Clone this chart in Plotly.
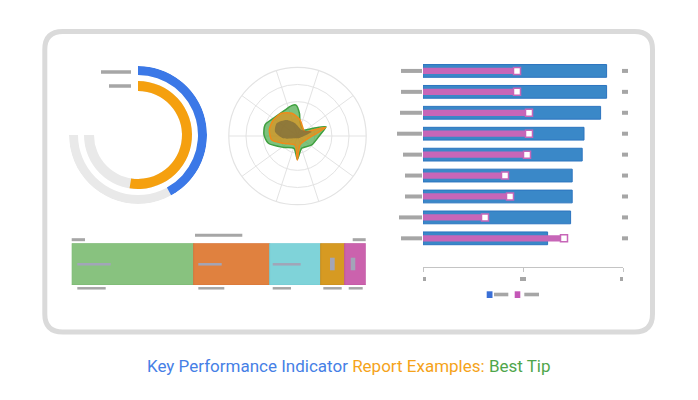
import plotly.graph_objects as go
import numpy as np

W, H = 698, 400

# ---------------- data ----------------
# radial gauge (percent of full 270 degree track): outer blue, inner orange
gauge_values = [56, 70]
gauge_colors = ["#3b78e7", "#f5a00f"]
gauge_track = "#e9e9e9"

# radar series (theta in degrees, r in radial units 0..68.7)
green_theta = [2.5, 18, 26, 46, 80, 85, 92.8, 101, 116, 144, 161, 178, 194, 219, 254, 269.6, 289, 328]
green_r = [22.5, 30, 17.6, 8.4, 14.5, 22.7, 31, 30.9, 28.8, 29.9, 34.3, 33.5, 30, 18.1, 12.8, 23.3, 13, 16.8]
orange_theta = [8, 17, 21, 30, 81, 104, 125, 146.5, 168, 189, 207.4, 254.5, 269.6, 285.5, 348]
orange_r = [19.4, 29.6, 16.9, 8.5, 16.2, 23.4, 27.7, 29, 28.8, 26.1, 16, 9.3, 24, 9.3, 11.1]
dark_theta = [17, 55, 101, 124, 148.7, 169, 189.4, 223, 300, 346.5]
dark_r = [14.8, 7.3, 12.9, 19.3, 24.4, 22.9, 14.4, 3.4, 2.5, 4.3]

# stacked bar segments
seg_values = [122, 76, 51, 24, 21]
seg_colors = ["#88c27f", "#e0813f", "#7fd3d9", "#d69a22", "#cb62ad"]
seg_lines = ["#7ab872", "#d8743a", "#74cbd2", "#c98d1c", "#c0569f"]

# bullet chart
bullet_rows = list(range(9))
bullet_actual = [91.8, 91.8, 88.8, 80.5, 79.6, 74.6, 74.6, 73.8, 62.3]
bullet_target = [49, 49, 55, 55, 54, 43, 45.5, 33, 72.5]
bullet_ticks = [0, 50, 100]
bullet_label_w = [21, 21, 22, 25, 19, 17, 17, 23, 21]

# ---------------- helpers ----------------
def px(x):
    return x / W

def py(y):
    return 1 - y / H

GRAY = "#a6a6a6"
shapes = []

def rect(x0, x1, y0, y1, color=GRAY):
    shapes.append(dict(type="rect", xref="paper", yref="paper",
                       x0=px(x0), x1=px(x1), y0=py(y1), y1=py(y0),
                       line=dict(width=0), fillcolor=color, layer="above"))

def hbar(x0, x1, yc, h=3, color=GRAY):
    rect(x0, x1, yc - h / 2, yc + h / 2, color)

# card border
x0, x1, y0, y1, rr = 44.8, 652.5, 31.5, 332, 18
def P(x, y):
    return f"{px(x):.5f},{py(y):.5f}"
card = (f"M {P(x0+rr,y0)} L {P(x1-rr,y0)} Q {P(x1,y0)} {P(x1,y0+rr)} "
        f"L {P(x1,y1-rr)} Q {P(x1,y1)} {P(x1-rr,y1)} L {P(x0+rr,y1)} "
        f"Q {P(x0,y1)} {P(x0,y1-rr)} L {P(x0,y0+rr)} Q {P(x0,y0)} {P(x0+rr,y0)} Z")
shapes.append(dict(type="path", path=card, xref="paper", yref="paper",
                   line=dict(color="#dadada", width=5), fillcolor="rgba(0,0,0,0)", layer="below"))

fig = go.Figure()

# ---------------- gauge ----------------
SPAN = 270
ring_base = [60, 44]
ring_thick = [9, 10]
fig.add_trace(go.Barpolar(r=ring_thick, base=ring_base, theta=[SPAN / 2] * 2, width=[SPAN] * 2,
                          marker=dict(color=gauge_track, line=dict(width=0)),
                          subplot="polar", showlegend=False, hoverinfo="skip"))
deg = [v / 100 * SPAN for v in gauge_values]
fig.add_trace(go.Barpolar(r=ring_thick, base=ring_base, theta=[d / 2 for d in deg], width=deg,
                          marker=dict(color=gauge_colors, line=dict(width=0)),
                          subplot="polar", showlegend=False))
hbar(101, 131, 72, 3.5)
hbar(109, 131, 86, 3.5)

# ---------------- radar ----------------
def closed(t, r):
    return list(t) + [t[0]], list(r) + [r[0]]

for (t, r, fc, lc, lw) in [
    (green_theta, green_r, "rgba(70,168,70,0.7)", "#3fa03f", 1.5),
    (orange_theta, orange_r, "rgba(235,140,20,0.65)", "#f08a1a", 1.5),
    (dark_theta, dark_r, "rgba(100,90,60,0.55)", "rgba(0,0,0,0)", 0),
]:
    tt, rr2 = closed(t, r)
    fig.add_trace(go.Scatterpolar(theta=tt, r=rr2, mode="lines", fill="toself",
                                  fillcolor=fc, line=dict(color=lc, width=lw, shape="spline", smoothing=0.7),
                                  subplot="polar2", showlegend=False))

# ---------------- stacked bar ----------------
bases = np.concatenate([[0], np.cumsum(seg_values)[:-1]])
fig.add_trace(go.Bar(y=[0] * len(seg_values), x=seg_values, base=bases, orientation="h", width=1,
                     marker=dict(color=seg_colors, line=dict(color=seg_lines, width=1)),
                     xaxis="x2", yaxis="y2", showlegend=False))
hbar(71.7, 85, 239.7, 3)
hbar(195, 242.3, 235.3, 3)
hbar(352.7, 365.7, 239.7, 3)
IN = "#a2a5b8"
hbar(77.3, 110.7, 264.3, 2.5, IN)
hbar(198.3, 221.7, 264.3, 2.5, IN)
hbar(272.7, 300.7, 264.3, 2.5, IN)
rect(330, 334.7, 257.7, 270.3, IN)
rect(350.7, 355.3, 257.7, 270.3, IN)
for a, b in [(77.3, 105.7), (198.3, 224.3), (272.7, 291), (323.3, 341.7), (348.7, 362.7)]:
    hbar(a, b, 288.3, 2.5)

# ---------------- bullet chart ----------------
fig.add_trace(go.Bar(y=bullet_rows, x=bullet_actual, orientation="h", width=0.61,
                     marker=dict(color="#3a88c8", line=dict(color="#2c74bf", width=1)),
                     xaxis="x", yaxis="y", showlegend=False))
fig.add_trace(go.Bar(y=bullet_rows, x=bullet_target, orientation="h", width=0.3,
                     marker=dict(color="#c766b8", line=dict(width=0)),
                     xaxis="x", yaxis="y", showlegend=False))
fig.add_trace(go.Scatter(y=bullet_rows, x=[t - 2 for t in bullet_target], mode="markers",
                         marker=dict(symbol="square", size=7, color="white",
                                     line=dict(color="#c766b8", width=1.5)),
                         xaxis="x", yaxis="y", showlegend=False))
for row, w in zip(bullet_rows, bullet_label_w):
    shapes.append(dict(type="rect", xref="paper", yref="y", x0=px(422 - w), x1=px(422),
                       ysizemode="pixel", yanchor=row, y0=-2, y1=2,
                       line=dict(width=0), fillcolor=GRAY))
    shapes.append(dict(type="rect", xref="paper", yref="y", x0=px(622), x1=px(628),
                       ysizemode="pixel", yanchor=row, y0=-2, y1=2,
                       line=dict(width=0), fillcolor=GRAY))
for tv in bullet_ticks:
    shapes.append(dict(type="rect", xref="x", yref="paper", xsizemode="pixel", xanchor=tv,
                       x0=-3, x1=3, y0=py(281), y1=py(277), line=dict(width=0), fillcolor=GRAY))
rect(486.7, 492.5, 291.3, 298, "#3a6fd6")
hbar(494, 508.3, 294.5, 3.6)
rect(514.7, 520.3, 291.3, 298, "#c457b7")
hbar(524.3, 539, 294.5, 3.6)

# ---------------- title ----------------
title = ('<span style="color:#4680e6">Key Performance Indicator</span> '
         '<span style="color:#f5a31a">Report Examples:</span> '
         '<span style="color:#4fa64b">Best Tip</span>')

GRID = "#e3e3e3"
RMAX = 68.7
fig.update_layout(
    width=W, height=H, margin=dict(l=0, r=0, t=0, b=0),
    paper_bgcolor="white", plot_bgcolor="white",
    barmode="overlay", showlegend=False,
    font=dict(family="Roboto"),
    polar=dict(domain=dict(x=[px(69), px(207)], y=[py(204), py(66)]),
               bgcolor="rgba(0,0,0,0)",
               radialaxis=dict(range=[0, 69], visible=False),
               angularaxis=dict(rotation=90, direction="clockwise", visible=False)),
    polar2=dict(domain=dict(x=[px(297.5 - RMAX), px(297.5 + RMAX)], y=[py(136 + RMAX), py(136 - RMAX)]),
                bgcolor="rgba(0,0,0,0)",
                radialaxis=dict(range=[0, RMAX], tickmode="linear", tick0=0, dtick=RMAX / 4,
                                showticklabels=False, ticks="", showline=False,
                                gridcolor=GRID, gridwidth=1.2),
                angularaxis=dict(tickmode="linear", tick0=0, dtick=36, showticklabels=False,
                                 ticks="", showline=True, linecolor=GRID, linewidth=1.2,
                                 gridcolor=GRID, gridwidth=1.2)),
    xaxis=dict(domain=[px(423), px(623)], range=[0, 100], tickvals=bullet_ticks,
               showticklabels=False, ticks="outside", ticklen=4, tickcolor="#c4c4c4",
               showline=True, linecolor="#c4c4c4", linewidth=1.2, showgrid=False, zeroline=False,
               anchor="y", fixedrange=True),
    yaxis=dict(domain=[py(267), py(50)], range=[9.37, -1.0], visible=False, anchor="x"),
    xaxis2=dict(domain=[px(71.7), px(365.7)], range=[0, sum(seg_values)], visible=False, anchor="y2"),
    yaxis2=dict(domain=[py(285), py(243.3)], range=[-0.5, 0.5], visible=False, anchor="x2"),
    shapes=shapes,
    annotations=[dict(text=title, x=0.5, y=py(366), xref="paper", yref="paper",
                      xanchor="center", yanchor="middle", showarrow=False,
                      font=dict(family="Roboto", size=17))],
)

fig.write_html("out.html")
